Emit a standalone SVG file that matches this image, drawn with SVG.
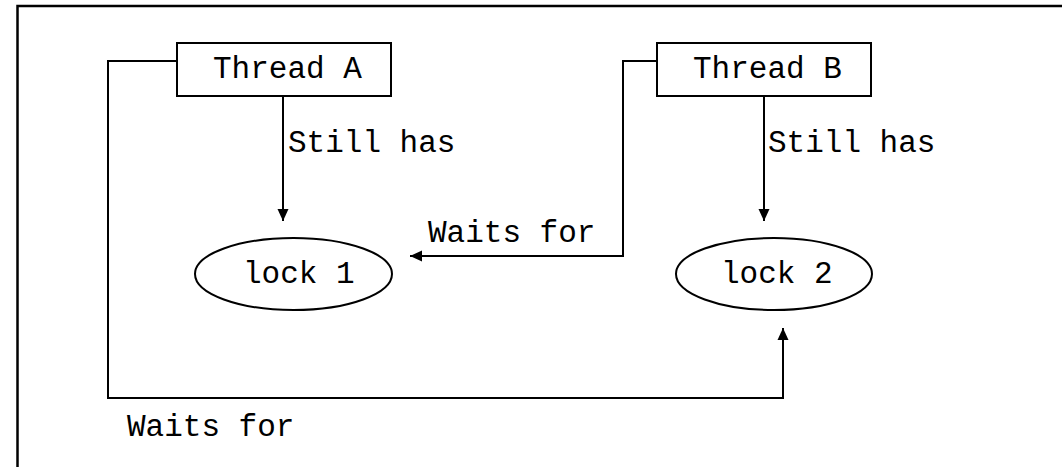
<svg xmlns="http://www.w3.org/2000/svg" width="1062" height="467" viewBox="0 0 1062 467">
  <style>
    .box { fill: #fff; stroke: #000; stroke-width: 2; }
    .lbl { font-family: "Liberation Mono", "Courier New", monospace; font-size: 31px; fill: #000; }
    .edge { fill: none; stroke: #000; stroke-width: 2; }
  </style>
  <defs>
    <marker id="arrow" markerUnits="userSpaceOnUse" markerWidth="12" markerHeight="12" viewBox="0 0 12 12" refX="12" refY="6" orient="auto">
      <path d="M0,0.5 L12,6 L0,11.5 Z" fill="#000"/>
    </marker>
  </defs>
  <rect x="0" y="0" width="1062" height="467" fill="#fff"/>
  <rect id="frame" x="17.5" y="6" width="1100" height="500" fill="none" stroke="#000" stroke-width="2.5"/>
  <g id="connectors">
    <path class="edge" d="M283 96 V221" marker-end="url(#arrow)"/>
    <path class="edge" d="M764 96 V221" marker-end="url(#arrow)"/>
    <path class="edge" d="M657 61 H623 V256 H410" marker-end="url(#arrow)"/>
    <path class="edge" d="M177 61 H108 V398 H783 V328" marker-end="url(#arrow)"/>
    <text class="lbl" x="288" y="152">Still has</text>
    <text class="lbl" x="768" y="152">Still has</text>
    <text class="lbl" x="428" y="242">Waits for</text>
    <text class="lbl" x="127" y="436">Waits for</text>
  </g>
  <g id="threadA">
    <rect class="box" x="177" y="43" width="214" height="53"/>
    <text class="lbl" x="213" y="78">Thread A</text>
  </g>
  <g id="threadB">
    <rect class="box" x="657" y="43" width="214" height="53"/>
    <text class="lbl" x="693" y="78">Thread B</text>
  </g>
  <g id="lock1">
    <ellipse class="box" cx="293.5" cy="274" rx="98.5" ry="36"/>
    <text class="lbl" x="243" y="283">lock 1</text>
  </g>
  <g id="lock2">
    <ellipse class="box" cx="774" cy="274" rx="98" ry="36"/>
    <text class="lbl" x="721" y="283">lock 2</text>
  </g>
</svg>
